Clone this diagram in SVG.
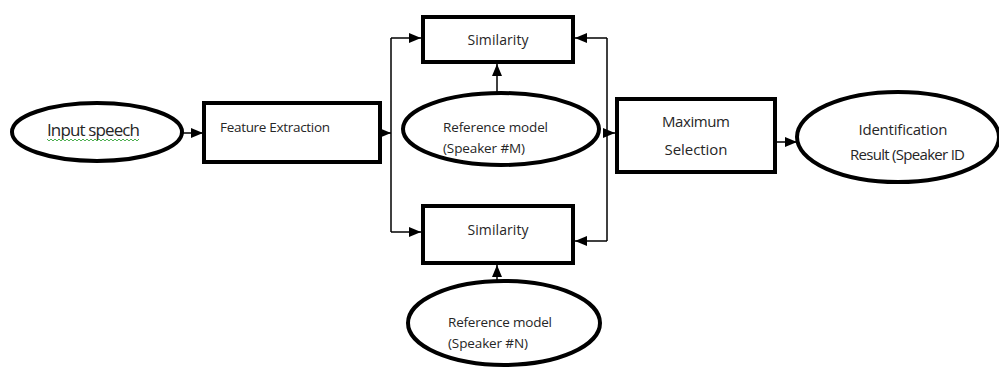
<svg xmlns="http://www.w3.org/2000/svg" width="999" height="372" viewBox="0 0 999 372">
<style>
.box{fill:#fff;stroke:#000;stroke-width:4}
.ell{fill:#fff;stroke:#000;stroke-width:4}
.t{font-family:"Open Sans","Liberation Sans",sans-serif;fill:#262626}
.c{fill:none;stroke:#000;stroke-width:1.5}
</style>
<defs>
<marker id="ah" markerUnits="userSpaceOnUse" markerWidth="12" markerHeight="12" viewBox="0 0 12 12" refX="12" refY="6" orient="auto">
<path d="M0,1 L12,6 L0,11 Z" fill="#000"/>
</marker>
</defs>
<g id="connectors">
<line class="c" x1="183" y1="133" x2="203" y2="133" marker-end="url(#ah)"/>
<line class="c" x1="382" y1="133" x2="391" y2="133" marker-end="url(#ah)"/>
<polyline class="c" points="391,38 391,232"/>
<line class="c" x1="391" y1="38" x2="421" y2="38" marker-end="url(#ah)"/>
<line class="c" x1="391" y1="232" x2="421" y2="232" marker-end="url(#ah)"/>
<polyline class="c" points="607,38 607,241"/>
<line class="c" x1="607" y1="38" x2="575" y2="38" marker-end="url(#ah)"/>
<line class="c" x1="607" y1="241" x2="575" y2="241" marker-end="url(#ah)"/>
<line class="c" x1="607" y1="133" x2="615" y2="133" marker-end="url(#ah)"/>
<line class="c" x1="497" y1="93" x2="497" y2="64" marker-end="url(#ah)"/>
<line class="c" x1="497" y1="280" x2="497" y2="265" marker-end="url(#ah)"/>
<line class="c" x1="777" y1="142" x2="797" y2="142" marker-end="url(#ah)"/>
</g>
<g id="input">
<ellipse class="ell" cx="97" cy="132" rx="85" ry="29"/>
<text class="t" x="47" y="136" font-size="17" textLength="93">Input speech</text>
<path d="M47,139 l2,2 l2,-2 l2,2 l2,-2 l2,2 l2,-2 l2,2 l2,-2 l2,2 l2,-2 l2,2 l2,-2 l2,2 l2,-2 l2,2 l2,-2 l2,2 l2,-2 l2,2 l2,-2 l2,2 l2,-2 l2,2 l2,-2 l2,2 l2,-2 l2,2 l2,-2 l2,2 l2,-2 l2,2 l2,-2 l2,2 l2,-2 l2,2 l2,-2 l2,2 l2,-2 l2,2 l2,-2 l2,2 l2,-2 l2,2 l2,-2 l2,2 l2,-2" fill="none" stroke="#4caf50" stroke-width="1"/>
</g>
<g id="feature">
<rect class="box" x="204" y="103" width="176" height="59"/>
<text class="t" x="220" y="132" font-size="13.5" textLength="110">Feature Extraction</text>
</g>
<g id="sim-m">
<rect class="box" x="423" y="17" width="150" height="45"/>
<text class="t" x="498" y="45" font-size="14" text-anchor="middle" textLength="61">Similarity</text>
</g>
<g id="ref-m">
<ellipse class="ell" cx="501" cy="129" rx="98" ry="36"/>
<text class="t" x="443" y="132" font-size="13.5" textLength="105">Reference model</text>
<text class="t" x="443" y="153" font-size="13.5" textLength="82">(Speaker #M)</text>
</g>
<g id="sim-n">
<rect class="box" x="423" y="206" width="150" height="57"/>
<text class="t" x="498" y="235" font-size="14" text-anchor="middle" textLength="61">Similarity</text>
</g>
<g id="ref-n">
<ellipse class="ell" cx="504" cy="323" rx="96" ry="42"/>
<text class="t" x="448" y="327" font-size="13.5" textLength="104">Reference model</text>
<text class="t" x="448" y="348" font-size="13.5" textLength="80">(Speaker #N)</text>
</g>
<g id="maxsel">
<rect class="box" x="617" y="99" width="158" height="73"/>
<text class="t" x="696" y="127" font-size="15" text-anchor="middle" textLength="68">Maximum</text>
<text class="t" x="696" y="155" font-size="15" text-anchor="middle" textLength="63">Selection</text>
</g>
<g id="ident">
<ellipse class="ell" cx="898" cy="137" rx="101" ry="45"/>
<text class="t" x="903" y="135" font-size="15" text-anchor="middle" textLength="89">Identification</text>
<text class="t" x="850" y="160" font-size="15" textLength="115">Result (Speaker ID</text>
</g>
</svg>
